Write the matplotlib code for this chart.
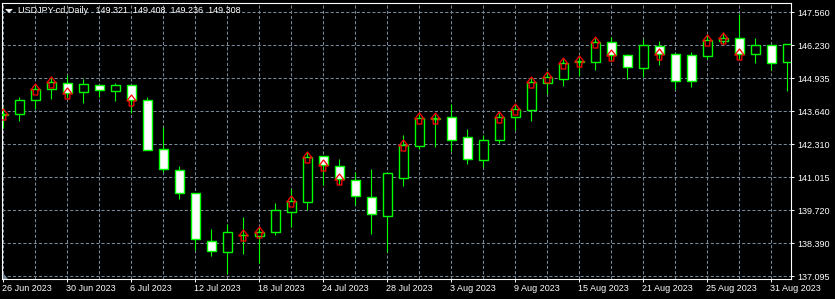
import matplotlib
matplotlib.use("Agg")
import matplotlib.pyplot as plt
import matplotlib.transforms as mtransforms
from matplotlib.path import Path
from matplotlib.patches import Polygon
import numpy as np

plt.rcParams['font.family'] = ['Liberation Sans', 'DejaVu Sans']

# ---------------- data (USDJPY-cd, Daily) ----------------
opens = [143.489, 143.517, 144.084, 144.508, 144.746, 144.413, 144.666, 144.452, 144.666, 144.084,
         142.129, 141.309, 140.385, 138.483, 138.046, 138.732, 138.705, 138.839, 139.632, 140.052,
         141.864, 141.456, 140.900, 140.227, 139.474, 140.972, 142.272, 143.346, 143.398, 142.605,
         141.693, 142.486, 143.398, 143.699, 144.746, 144.928, 145.578, 145.578, 146.371, 145.856,
         145.340, 146.212, 145.907, 145.856, 145.840, 146.442, 146.529, 145.895, 146.252, 145.578]
highs = [143.806, 144.203, 144.678, 144.976, 145.087, 144.928, 144.670, 144.758, 144.670, 144.214,
         143.013, 141.467, 140.385, 138.970, 139.168, 139.446, 139.049, 140.001, 140.556, 142.022,
         141.864, 141.745, 141.218, 141.348, 141.178, 142.696, 143.529, 143.529, 143.925, 142.922,
         142.696, 143.568, 143.885, 144.956, 145.194, 145.709, 145.788, 146.561, 146.581, 145.907,
         146.514, 146.422, 145.947, 145.986, 146.660, 146.779, 147.473, 146.541, 146.252, 146.303]
lows = [142.974, 143.263, 143.739, 144.135, 144.163, 143.977, 144.214, 144.056, 143.556, 142.090,
        141.230, 140.179, 138.118, 137.912, 137.174, 137.991, 137.634, 138.732, 139.061, 139.735,
        140.726, 140.714, 139.933, 138.752, 138.070, 140.687, 142.153, 142.232, 142.062, 141.547,
        141.440, 142.391, 142.894, 143.263, 144.321, 144.650, 145.035, 145.285, 145.630, 144.928,
        145.007, 145.483, 144.520, 144.599, 145.721, 146.315, 145.669, 145.562, 145.261, 144.452]
closes = [143.529, 144.084, 144.508, 144.797, 144.349, 144.706, 144.468, 144.666, 144.084, 142.090,
          141.337, 140.385, 138.562, 138.086, 138.839, 138.744, 138.851, 139.711, 140.068, 141.812,
          141.507, 140.940, 140.266, 139.553, 141.178, 142.288, 143.358, 143.358, 142.498, 141.757,
          142.486, 143.398, 143.715, 144.785, 144.983, 145.538, 145.630, 146.371, 145.867, 145.380,
          146.252, 145.919, 144.849, 144.849, 146.450, 146.541, 145.895, 146.252, 145.538, 146.303]
signals = [1, 0, 1, 1, 1, 0, 0, 0, 1, 0,
           0, 0, 0, 0, 0, 1, 1, 0, 1, 1,
           1, 1, 0, 0, 0, 1, 1, 1, 0, 0,
           0, 1, 1, 1, 1, 1, 1, 1, 1, 0,
           0, 1, 0, 0, 1, 1, 1, 0, 0, 0]
date_labels = ["26 Jun 2023", "30 Jun 2023", "6 Jul 2023", "12 Jul 2023", "18 Jul 2023",
               "24 Jul 2023", "28 Jul 2023", "3 Aug 2023", "9 Aug 2023", "15 Aug 2023",
               "21 Aug 2023", "25 Aug 2023", "31 Aug 2023"]
price_labels = ["137.095", "138.390", "139.720", "141.015", "142.310",
                "143.640", "144.935", "146.230", "147.560"]
title_text = "USDJPY-cd,Daily   149.321  149.408  149.236  149.308"

# ---------------- figure ----------------
W, H = 835, 299
fig = plt.figure(figsize=(W / 100, H / 100), dpi=100, facecolor="black")
ax_left, ax_right, ax_top, ax_bottom = 2, 791, 2.5, 279
ax = fig.add_axes([ax_left / W, (H - ax_bottom) / H,
                   (ax_right - ax_left) / W, (ax_bottom - ax_top) / H])
ax.set_facecolor("black")

o = np.array(opens); h = np.array(highs); l = np.array(lows); c = np.array(closes)
x = np.arange(len(o))
GREEN = "#00FF00"

ax.vlines(x, l, h, colors=GREEN, linewidth=0.8, zorder=2)
body_col = ["black" if cc >= oo else "white" for oo, cc in zip(o, c)]
ax.bar(x, np.abs(c - o), bottom=np.minimum(o, c), width=0.59,
       color=body_col, edgecolor=GREEN, linewidth=1.0, zorder=3)

# arrow markers at close
verts = [(0, 5.5), (4.7, -0.5), (2.3, -0.5), (2.3, -5.5), (-2.3, -5.5),
         (-2.3, -0.5), (-4.7, -0.5), (0, 5.5)]
arrow = Path(verts, closed=True)
sx = [i for i, s in enumerate(signals) if s]
sy = [closes[i] for i in sx]
ax.plot(sx, sy, linestyle="none", marker=arrow, markersize=11 * 0.72,
        markerfacecolor="none", markeredgecolor="#FF0000", markeredgewidth=0.9, zorder=4)

# axes limits (x: 16 px per bar, first bar center at px 3.3)
ax.set_xlim((ax_left - 3.3) / 16, (ax_right - 3.3) / 16)
yt = np.linspace(137.095, 147.560, len(price_labels))
ppx = (yt[-1] - yt[0]) / (276.3 - 12.3)
ax.set_ylim(yt[0] - (ax_bottom - 276.3) * ppx, yt[-1] + (12.3 - ax_top) * ppx)

ax.set_yticks(yt)
ax.set_yticklabels(price_labels)
ax.yaxis.tick_right()
ax.set_xticks(np.arange(0, 4 * len(date_labels), 4))
ax.set_xticklabels(date_labels, ha="left")
ax.set_xticks(np.arange(0, len(o), 2), minor=True)
ax.tick_params(axis="both", which="major", colors="white", labelcolor="white",
               labelsize=6.5, length=2.5, width=0.7, direction="out")
ax.tick_params(axis="y", pad=2)
ax.tick_params(axis="x", pad=0.8)
ax.tick_params(axis="x", which="minor", length=0)
off = mtransforms.ScaledTranslation(-1 / 100, 0, fig.dpi_scale_trans)
for lab in ax.get_xticklabels():
    lab.set_transform(lab.get_transform() + off)

ax.grid(True, which="both", axis="x", color="#778899", linestyle=(0, (3, 2)), linewidth=0.75, zorder=0)
ax.grid(True, which="major", axis="y", color="#778899", linestyle=(0, (3, 2)), linewidth=0.75, zorder=0)
ax.set_axisbelow(True)
for sp in ax.spines.values():
    sp.set_color("white")
    sp.set_linewidth(0.8)

# header and small decorations (pixel coordinates, origin top-left)
pxT = mtransforms.Affine2D().scale(1 / W, -1 / H).translate(0, 1) + fig.transFigure
fig.patches.append(Polygon([(5.7, 9.3), (12.3, 9.3), (9.0, 12.3)], closed=True,
                           facecolor="white", edgecolor="white", linewidth=0.5, transform=pxT))
fig.patches.append(Polygon([(2.7, 273.3), (2.7, 278.7), (7.5, 278.7)], closed=True,
                           facecolor="#778899", edgecolor="none", transform=pxT))
fig.text(18 / W, 1 - 5.8 / H, title_text, color="white", fontsize=6.5, va="top", ha="left")

fig.savefig("out.png", dpi=100, facecolor="black")
